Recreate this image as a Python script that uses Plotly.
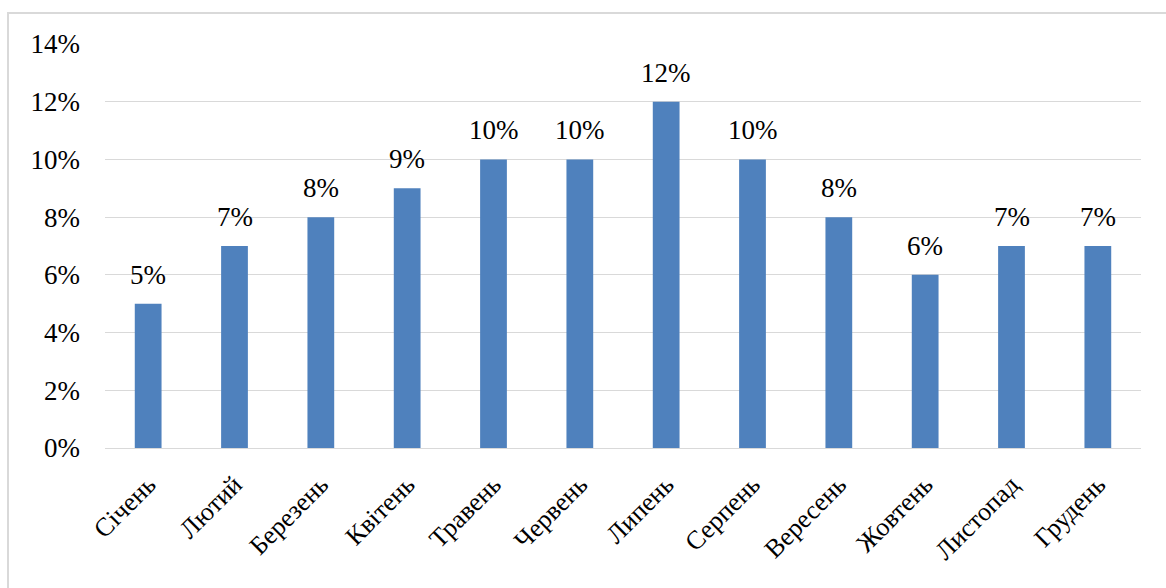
import plotly.graph_objects as go

months = ["Січень", "Лютий", "Березень", "Квітень", "Травень", "Червень",
          "Липень", "Серпень", "Вересень", "Жовтень", "Листопад", "Грудень"]
shares = [0.05, 0.07, 0.08, 0.09, 0.10, 0.10, 0.12, 0.10, 0.08, 0.06, 0.07, 0.07]
y_ticks = [0, 0.02, 0.04, 0.06, 0.08, 0.10, 0.12, 0.14]

W, H = 1166, 588
L, R, T, B = 105, 25, 44, 140
pw, ph = W - L - R, H - T - B

FONT = "Times New Roman, Liberation Serif, serif"
FS = 27

fig = go.Figure(go.Bar(
    x=months, y=shares,
    marker=dict(color="#4F81BD", line=dict(width=0)),
    width=0.31,
    cliponaxis=False,
))

annotations = [
    dict(x=m, y=v, xref="x", yref="y", text=f"{round(v * 100)}%",
         showarrow=False, yanchor="bottom", yshift=12,
         font=dict(family=FONT, size=FS, color="#000000"))
    for m, v in zip(months, shares)
]

fig.update_layout(
    width=W, height=H,
    margin=dict(l=L, r=R, t=T, b=B, pad=0),
    paper_bgcolor="white", plot_bgcolor="white",
    showlegend=False,
    font=dict(family=FONT, color="#000000"),
    annotations=annotations,
    shapes=[dict(type="rect", xref="paper", yref="paper",
                 x0=(8 - L) / pw, x1=(W + 10 - L) / pw,
                 y0=-(H + 10 - (T + ph)) / ph, y1=(T + ph - 13) / ph,
                 line=dict(color="#d9d9d9", width=2), layer="below")],
)
fig.update_xaxes(
    tickangle=-45, tickfont=dict(family=FONT, size=FS - 1, color="#000000"),
    showgrid=False, showline=True, linecolor="#d9d9d9", linewidth=1,
    ticks="", ticklabelstandoff=10,
)
fig.update_yaxes(
    range=[0, 0.14], tickvals=y_ticks, tickformat=".0%",
    tickfont=dict(family=FONT, size=FS, color="#000000"),
    showgrid=True, gridcolor="#d9d9d9", gridwidth=1,
    zeroline=False, showline=False, ticks="", ticklabelstandoff=24,
)

fig.write_html("out.html")
